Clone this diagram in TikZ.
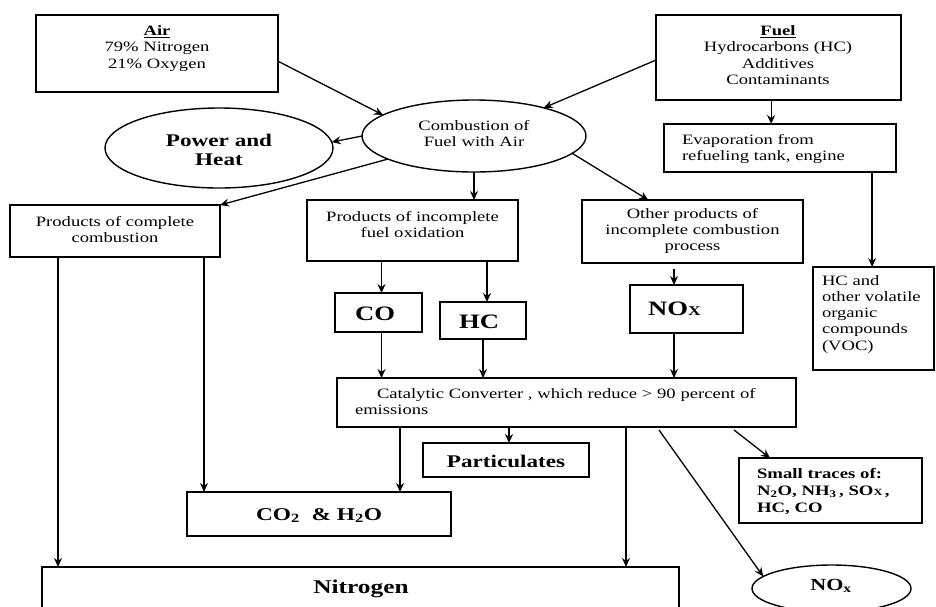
\documentclass[tikz,border=0pt]{standalone}
\usepackage{fontspec}
\setmainfont{Liberation Serif}[FakeStretch=1.3]
\usetikzlibrary{arrows.meta,shapes.geometric,calc}

% type sizes used in the chart
\newcommand\fsreg{\fontsize{14.3pt}{16.3pt}\selectfont}
\newcommand\fsmid{\fontsize{17.8pt}{19.5pt}\selectfont\bfseries}
\newcommand\fsgas{\fontsize{20.5pt}{22pt}\selectfont\bfseries}
\newcommand\capx[1]{{\fontsize{#1}{#1}\selectfont X}}

\begin{document}
\begin{tikzpicture}[x=1pt,y=-1pt,
  box/.style={draw, line width=1.5pt, rectangle, inner sep=0pt, outer sep=0pt},
  oval/.style={draw, line width=1.4pt, ellipse, inner sep=0pt, outer sep=0pt},
  txt/.style={inner sep=0pt, outer sep=0pt, font=\fsreg},
  flow/.style={line width=1.3pt, -{Stealth[length=9pt,width=8pt,inset=3pt]}},
]
\useasboundingbox (0,0) rectangle (936,606);
\clip (0,0) rectangle (936,606);

% ---- frames ----
\node[box, minimum width=242pt, minimum height=77pt]  (air)     at (157,53.5)   {};
\node[box, minimum width=245pt, minimum height=85pt]  (fuel)    at (778.5,57.5) {};
\node[oval, minimum width=224pt, minimum height=72pt] (comb)    at (474,136)    {};
\node[oval, minimum width=228pt, minimum height=80pt] (power)   at (219,148)    {};
\node[box, minimum width=232pt, minimum height=48pt]  (evap)    at (780,148)    {};
\node[box, minimum width=210pt, minimum height=52pt]  (compl)   at (115,231)    {};
\node[box, minimum width=211pt, minimum height=61pt]  (incfuel) at (412.5,230.5) {};
\node[box, minimum width=221pt, minimum height=63pt]  (other)   at (692.5,231.5) {};
\node[box, minimum width=121pt, minimum height=103pt] (voc)     at (873.5,318.5) {};
\node[box, minimum width=87pt, minimum height=39pt]   (co)      at (378.5,312.5) {};
\node[box, minimum width=86pt, minimum height=37pt]   (hc)      at (483,320.5)  {};
\node[box, minimum width=113pt, minimum height=48pt]  (nox)     at (686.5,309)  {};
\node[box, minimum width=459pt, minimum height=49pt]  (cat)     at (566.5,402.5) {};
\node[box, minimum width=166pt, minimum height=34pt]  (part)    at (506,460)    {};
\node[box, minimum width=264pt, minimum height=44pt]  (co2)     at (319,514)    {};
\node[box, minimum width=183pt, minimum height=65pt]  (trace)   at (830.5,490.5) {};
\node[box, minimum width=637pt, minimum height=80pt]  (nitro)   at (360.5,607)  {};
\node[oval, minimum width=159pt, minimum height=47pt] (noxe)    at (831.5,588.5) {};

% ---- labels ----
\node[txt, anchor=base, text width=200pt, align=center] (airT) at (157,35.5)
  {\underline{\textbf{Air}}\\79\% Nitrogen\\21\% Oxygen};
\node[txt, anchor=base, text width=220pt, align=center] (fuelT) at (778,35.5)
  {\underline{\textbf{Fuel}}\\Hydrocarbons (HC)\\Additives\\Contaminants};
\node[txt, anchor=base, text width=180pt, align=center] (combT) at (474,130)
  {Combustion of\\Fuel with Air};
\node[txt, anchor=base, text width=200pt, align=center, font=\fsmid] (powerT) at (219,146)
  {Power and\\Heat};
\node[txt, anchor=base west, text width=210pt, align=left] (evapT) at (682,144)
  {Evaporation from\\refueling tank, engine};
\node[txt, anchor=base, text width=200pt, align=center] (complT) at (115,226)
  {Products of complete\\combustion};
\node[txt, anchor=base, text width=205pt, align=center] (incfuelT) at (412.5,221)
  {Products of incomplete\\fuel oxidation};
\node[txt, anchor=base, text width=215pt, align=center] (otherT) at (692.5,218.3)
  {Other products of\\incomplete combustion\\process};
\node[txt, anchor=base west, text width=110pt, align=left] (vocT) at (822,285)
  {HC and\\other volatile\\organic\\compounds\\(VOC)};
\node[txt, anchor=base, font=\fsgas] (coT) at (375,320) {CO};
\node[txt, anchor=base, font=\fsgas] (hcT) at (479,328) {HC};
\node[txt, anchor=base, font=\fsgas] (noxT) at (674.5,315) {NO\capx{13.5pt}};
\node[txt, anchor=base west, text width=440pt, align=left] (catT) at (355,398)
  {\hspace*{22pt}Catalytic Converter , which reduce > 90 percent of\\emissions};
\node[txt, anchor=base, font=\fsmid] (partT) at (506,467) {Particulates};
\node[txt, anchor=base, font=\fontsize{18pt}{20pt}\selectfont\bfseries] (co2T) at (319,520)
  {CO\textsubscript{2}\ \ \& H\textsubscript{2}O};
\node[txt, anchor=base west, text width=170pt, align=left,
      font=\fontsize{14.4pt}{17pt}\selectfont\bfseries] (traceT) at (757,478)
  {Small traces of:\\N\textsubscript{2}O, NH\textsubscript{3}\,, SO\capx{9.5pt}\,,\\HC, CO};
\node[txt, anchor=base, font=\fontsize{19.5pt}{21pt}\selectfont\bfseries] (nitroT) at (361,593) {Nitrogen};
\node[txt, anchor=base, font=\fontsize{17pt}{19pt}\selectfont\bfseries] (noxeT) at (831,590)
  {NO\textsubscript{x}};

% ---- connector end points along box edges ----
\coordinate (airout)  at ($(air.north east)!0.6!(air.south east)$);
\coordinate (fuelout) at ($(fuel.north west)!0.53!(fuel.south west)$);
\coordinate (fdrop)   at ($(fuel.south west)!0.47!(fuel.south east)$);
\coordinate (edrop)   at ($(evap.south west)!0.897!(evap.south east)$);
\coordinate (othin)   at ($(other.north west)!0.3!(other.north east)$);
\coordinate (coin)    at ([xshift=3pt]co.north);
\coordinate (hcin)    at ([xshift=4pt]hc.north);
\coordinate (noxin)   at ([xshift=-12.5pt]nox.north);
\coordinate (cl)      at ($(compl.south west)+(48,0)$);
\coordinate (cr)      at ($(compl.south west)+(194,0)$);
\coordinate (catA)    at ($(cat.south west)+(63,0)$);
\coordinate (catB)    at ($(cat.south west)+(172,0)$);
\coordinate (catC)    at ($(cat.south west)+(289,0)$);
\coordinate (catD)    at ($(cat.south west)+(322,3)$);
\coordinate (catE)    at ($(cat.south west)+(397,3)$);
\coordinate (trin)    at ($(trace.north west)+(31,0)$);

% ---- connectors ----
\draw[flow] (airout) -- (comb.167);
\draw[flow] (fuelout) -- (comb.22);
\draw[flow] (comb.west) -- (power.3);
\draw[flow] (comb.195) -- (compl.north east);
\draw[flow] (comb.south) -- (comb.south |- incfuel.north);
\draw[flow] (comb.-10) -- (othin);
\draw[flow] (fdrop) -- (fdrop |- evap.north);
\draw[flow] (edrop) -- (edrop |- voc.north);

\draw[flow] (coin |- incfuel.south) -- (coin);
\draw[flow] (hcin |- incfuel.south) -- (hcin);
\draw[flow, shorten <=6pt] (noxin |- other.south) -- (noxin);
\draw[flow] (coin |- co.south) -- (coin |- cat.north);
\draw[flow] (hc.south) -- (hc.south |- cat.north);
\draw[flow] (noxin |- nox.south) -- (noxin |- cat.north);

\draw[flow] (cl) -- (cl |- nitro.north);
\draw[flow] (cr) -- (cr |- co2.north);

\draw[flow] (catA) -- (catA |- co2.north);
\draw[flow] (catB) -- (catB |- part.north);
\draw[flow] (catC) -- (catC |- nitro.north);
\draw[flow] (catD) -- (noxe.170);
\draw[flow] (catE) -- (trin);
\end{tikzpicture}
\end{document}
